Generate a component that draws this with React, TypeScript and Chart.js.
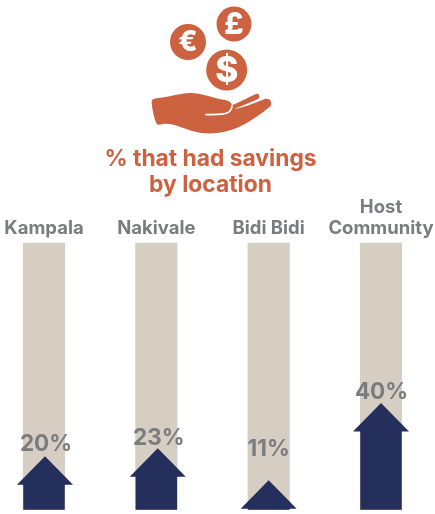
import React, { useEffect, useRef } from "react";
import { Chart, registerables } from "chart.js";

Chart.register(...registerables);

const categories: (string | string[])[] = ["Kampala", "Nakivale", "Bidi Bidi", ["Host", "Community"]];
const savingsPct = [20, 23, 11, 40];
const trackPct = [100, 100, 100, 100];
const titleLines = ["% that had savings", "by location"];

const ORANGE = "#CC6240";
const NAVY = "#242F5B";
const TRACK = "#D6CEC3";
const GREY = "#7B7C7F";
const FONT = "Inter, 'Open Sans', sans-serif";

const iconPlugin = {
  id: "icon",
  afterLayout(chart: any) {
    chart.titleBlock.left -= 2;
    chart.titleBlock.right -= 2;
  },
  beforeDraw(chart: any) {
    const c = chart.ctx;
    c.save();
    c.fillStyle = ORANGE;
    const coins: [number, number, number, string, number][] = [
      [188, 42, 18, "€", 28],
      [234, 24, 17.5, "£", 30],
      [226.7, 70, 20.5, "$", 35],
    ];
    coins.forEach(([x, y, r, s, size]) => {
      c.fillStyle = ORANGE;
      c.beginPath();
      c.arc(x, y, r, 0, Math.PI * 2);
      c.fill();
      c.fillStyle = "#fff";
      c.font = `800 ${size}px ${FONT}`;
      c.textAlign = "center";
      c.textBaseline = "middle";
      c.fillText(s, x, y + 1);
    });
    c.translate(130, 0);
    c.scale(1 / 3, 1 / 3);
    c.fillStyle = ORANGE;
    const hand = new Path2D(
      "M65 308 C64 300 70 296 80 295 C115 291 150 280 180 279 C215 279 250 295 285 300 C298 302 305 308 306 316 " +
        "C335 304 355 292 378 282 C388 279 392 292 384 297 C360 308 335 318 312 328 C350 320 380 306 404 297 " +
        "C420 292 432 310 418 322 C390 344 355 370 320 384 C285 398 250 404 210 398 C170 392 130 368 100 372 " +
        "C92 373 84 376 80 372 C72 355 67 330 65 308 Z"
    );
    c.fill(hand);
    c.strokeStyle = "#fff";
    c.lineWidth = 5;
    c.beginPath();
    c.moveTo(226, 344);
    c.bezierCurveTo(255, 343, 280, 345, 293, 338);
    c.bezierCurveTo(302, 334, 306, 326, 306, 316);
    c.stroke();
    c.restore();
  },
};

const arrowPlugin = {
  id: "arrows",
  afterDatasetsDraw(chart: any) {
    const c = chart.ctx;
    const meta = chart.getDatasetMeta(1);
    const headH = 28.5;
    const headW = 56;
    const shaftW = 41.5;
    const arrowNudge = [1, 1.4, 0, 0];
    const labelLift = [12, 10.5, 31, 11];
    const labelNudge = [2, 2.5, 0, 0.5];
    meta.data.forEach((bar: any, i: number) => {
      const x = bar.x + arrowNudge[i];
      const tip = bar.y;
      const base = bar.base;
      const neck = Math.min(tip + headH, base);
      c.save();
      c.fillStyle = NAVY;
      c.beginPath();
      c.moveTo(x, tip);
      c.lineTo(x + headW / 2, neck);
      c.lineTo(x + shaftW / 2 - arrowNudge[i], neck);
      c.lineTo(x + shaftW / 2 - arrowNudge[i], base);
      c.lineTo(x - shaftW / 2 - arrowNudge[i], base);
      c.lineTo(x - shaftW / 2 - arrowNudge[i], neck);
      c.lineTo(x - headW / 2, neck);
      c.closePath();
      c.fill();
      c.fillStyle = GREY;
      c.font = `700 22.5px ${FONT}`;
      c.textAlign = "center";
      c.textBaseline = "middle";
      c.fillText(`${savingsPct[i]}%`, bar.x + labelNudge[i], tip - labelLift[i]);
      c.restore();
    });
  },
};

export default function App() {
  const ref = useRef<HTMLCanvasElement>(null);
  useEffect(() => {
    const chart = new Chart(ref.current!, {
      type: "bar",
      data: {
        labels: categories as any,
        datasets: [
          {
            label: "Scale",
            data: trackPct,
            backgroundColor: TRACK,
            barThickness: 41.5,
            clip: false as any,
            grouped: false,
            order: 2,
          },
          {
            label: "% that had savings",
            data: savingsPct,
            backgroundColor: "rgba(0,0,0,0)",
            barThickness: 41.5,
            clip: false as any,
            grouped: false,
            order: 1,
          },
        ],
      },
      options: {
        animation: false,
        responsive: false,
        layout: { padding: { left: 44, right: 54, top: 0, bottom: 4.3 } },
        plugins: {
          legend: { display: false },
          tooltip: { enabled: false },
          title: {
            display: true,
            text: titleLines,
            color: ORANGE,
            fullSize: false,
            font: { family: FONT, size: 22.8, weight: "bold", lineHeight: 1.14 },
            padding: { top: 146.5, bottom: -5.3 },
          },
        },
        scales: {
          x: {
            position: "top",
            offset: false,
            afterFit(scale: any) {
              scale.paddingLeft = 0;
              scale.paddingRight = 0;
            },
            grid: { display: false, drawTicks: false },
            border: { display: false },
            ticks: {
              color: GREY,
              autoSkip: false,
              maxRotation: 0,
              minRotation: 0,
              padding: 4,
              font: { family: FONT, size: 18.5, weight: "bold", lineHeight: 1.13 },
            },
          },
          y: { display: false, min: 0, max: 100 },
        },
      },
      plugins: [iconPlugin, arrowPlugin],
    } as any);
    return () => chart.destroy();
  }, []);
  return (
    <canvas
      ref={ref}
      width={435}
      height={514}
      style={{ position: "fixed", left: 0, top: 0, width: 435, height: 514 }}
    />
  );
}
